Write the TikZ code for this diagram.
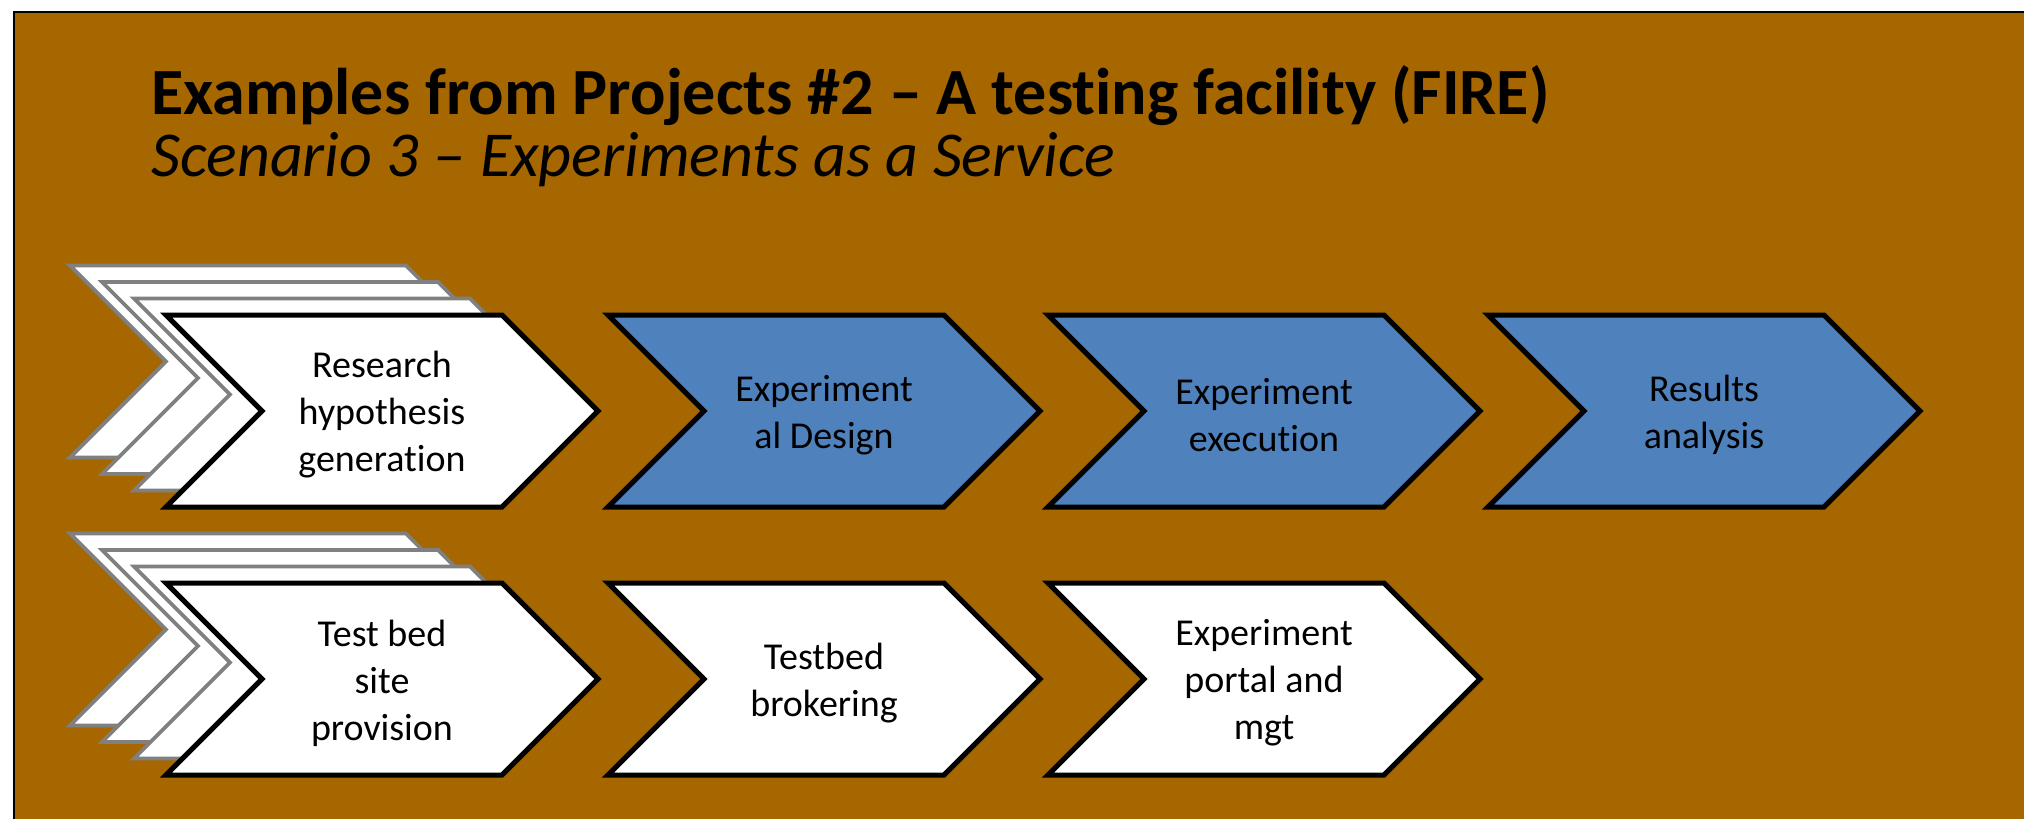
\documentclass[tikz,border=0pt]{standalone}
\usepackage{fontspec}
\setmainfont{Carlito}[Ligatures=CommonOff]
\usepackage{xcolor}
\usetikzlibrary{positioning}

\definecolor{panelbrown}{RGB}{166,102,0}
\definecolor{stepblue}{RGB}{79,129,189}

\tikzset{
	chevfront/.style={draw=black,line width=2.5pt,fill=white},
	chevblue/.style={chevfront,fill=stepblue},
	chevback/.style={draw=gray,line width=1.8pt,fill=white},
	steptext/.style={align=center,font=\fontsize{19}{23.5}\selectfont},
	headline/.style={anchor=base west,inner sep=0pt}
}

% chevron: style, left x, top y, node name, text
\newcommand\chevron[5]{
	\draw[#1] (#2,#3) -- ++(336,0) -- ++(96,96) -- ++(-96,96) -- ++(-336,0) -- ++(96,-96) -- cycle;
	\path (#2,#3) ++(216,100) node[steptext] (#4) {#5};
}

\begin{document}
\begin{tikzpicture}[x=0.5pt,y=-0.5pt]
			\useasboundingbox (0,0) rectangle (2024,819);
			\fill[white] (0,0) rectangle (2024,819);
			\draw[fill=panelbrown,line width=1pt] (14,12) rectangle (2040,840);

			\node[headline,font=\fontsize{33}{35}\selectfont\bfseries] (title) at (151,114) {Examples from Projects \#2 – A testing facility (FIRE)};
			\node[headline,font=\fontsize{32}{34}\selectfont\itshape] (subtitle) at (151,176) {Scenario 3 – Experiments as a Service};

			% stacked first steps
			\foreach \k in {3,2,1}
			{
				\draw[chevback] (166-32*\k,315-16.5*\k) -- ++(336,0) -- ++(96,96) -- ++(-96,96) -- ++(-336,0) -- ++(96,-96) -- cycle;
				\draw[chevback] (166-32*\k,583-16.5*\k) -- ++(336,0) -- ++(96,96) -- ++(-96,96) -- ++(-336,0) -- ++(96,-96) -- cycle;
			}

			\chevron{chevfront}{166}{315}{research}{Research\\hypothesis\\generation}
			\chevron{chevblue}{608}{315}{design}{Experiment\\al Design}
			\chevron{chevblue}{1048}{315}{execution}{Experiment\\execution}
			\chevron{chevblue}{1488}{315}{results}{Results\\analysis}

			\chevron{chevfront}{166}{583}{provision}{Test bed\\site\\provision}
			\chevron{chevfront}{608}{583}{brokering}{Testbed\\brokering}
			\chevron{chevfront}{1048}{583}{portal}{Experiment\\portal and\\mgt}
		\end{tikzpicture}
\end{document}
